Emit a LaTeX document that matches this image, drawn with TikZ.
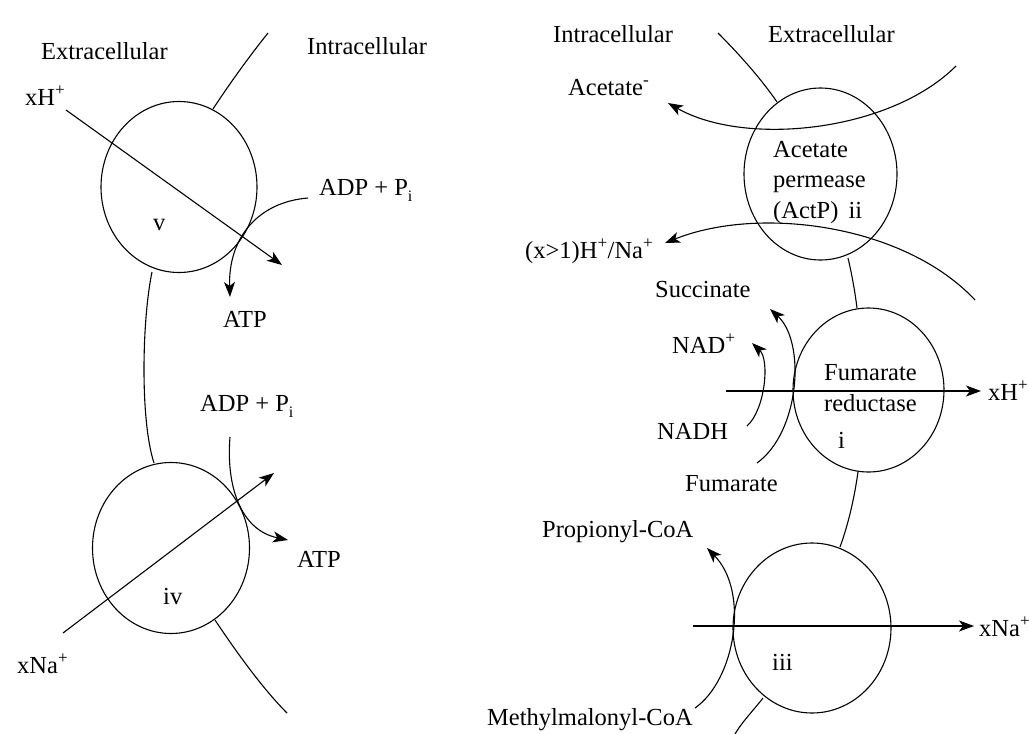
\documentclass[tikz,border=0pt]{standalone}
\usepackage{fontspec}
\setmainfont{Liberation Serif}
\usetikzlibrary{arrows.meta,shapes.geometric}
\newcommand{\lowi}{\raisebox{-6pt}{\fontsize{16}{16}\selectfont i}}
\begin{document}
\begin{tikzpicture}[x=1pt,y=-1pt,
  lbl/.style={anchor=base west, inner sep=0pt, font=\fontsize{24.5}{29}\selectfont},
  memb/.style={line width=1.1pt},
  flow/.style={line width=1.1pt, -{Stealth[length=15pt,width=11pt,inset=4pt]}},
  prot/.style={draw, ellipse, line width=1.1pt, inner sep=0pt}]
\useasboundingbox (0,0) rectangle (1029,734);

% ---------- protein circles ----------
\node[prot, minimum width=156pt, minimum height=171pt] (cv)   at (179,187) {};
\node[prot, minimum width=157pt, minimum height=171pt] (civ)  at (171,548) {};
\node[prot, minimum width=153pt, minimum height=172pt] (cii)  at (820.5,174) {};
\node[prot, minimum width=151pt, minimum height=164pt] (ci)   at (868.5,390) {};
\node[prot, minimum width=158pt, minimum height=170pt] (ciii) at (812,628) {};

% ---------- membrane segments ----------
\coordinate (mA0) at (268,33);  \coordinate (mA1) at (213,109);
\coordinate (mB0) at (152,272); \coordinate (mB1) at (154,463);
\coordinate (mC0) at (215,620); \coordinate (mC1) at (287,713);
\coordinate (rA0) at (718,33);  \coordinate (rA1) at (777,102);
\coordinate (rB0) at (848,258); \coordinate (rB1) at (857,308);
\coordinate (rC0) at (858,472); \coordinate (rC1) at (840,547);
\coordinate (rD0) at (763,698); \coordinate (rD1) at (735,734);

\draw[memb] (mA0) .. controls (248,58) and (228,86) .. (mA1);
\draw[memb] (mB0) .. controls (142,320) and (140,420) .. (mB1);
\draw[memb] (mC0) .. controls (235,650) and (262,688) .. (mC1);
\draw[memb] (rA0) .. controls (740,55) and (762,80) .. (rA1);
\draw[memb] (rB0) .. controls (852,275) and (855,292) .. (rB1);
\draw[memb] (rC0) .. controls (854,500) and (848,525) .. (rC1);
\draw[memb] (rD0) .. controls (752,712) and (742,722) .. (rD1);

% ---------- labels ----------
\node[lbl] (extL) at (41,59)  {Extracellular};
\node[lbl] (intL) at (307,54) {Intracellular};
\node[lbl] (xHL)  at (25,105) {xH\textsuperscript{+}};
\node[lbl] (adp1) at (319,195) {ADP + P\lowi};
\node[lbl] (atp1) at (223,327) {ATP};
\node[lbl] (labv) at (153,230) {v};
\node[lbl] (adp2) at (200,411) {ADP + P\lowi};
\node[lbl] (atp2) at (297,567) {ATP};
\node[lbl] (labiv) at (163,604) {iv};
\node[lbl] (xNaL) at (17,673) {xNa\textsuperscript{+}};

\node[lbl] (intR) at (553,42) {Intracellular};
\node[lbl] (extR) at (768,42) {Extracellular};
\node[lbl] (acet) at (568,95) {Acetate\textsuperscript{-}};
\node[lbl] (ap1)  at (773,157) {Acetate};
\node[lbl] (ap2)  at (773,187) {permease};
\node[lbl] (ap3)  at (773,218) {(ActP)\hspace{10pt}ii};
\node[lbl] (hna)  at (525,258) {(x>1)H\textsuperscript{+}/Na\textsuperscript{+}};
\node[lbl] (succ) at (655,297) {Succinate};
\node[lbl] (nadp) at (672,353) {NAD\textsuperscript{+}};
\node[lbl] (fr1)  at (824,380) {Fumarate};
\node[lbl] (fr2)  at (824,411) {reductase};
\node[lbl] (labi) at (838,448) {i};
\node[lbl] (nadh) at (657,439) {NADH};
\node[lbl] (fum)  at (685,491) {Fumarate};
\node[lbl] (xHR)  at (988,400) {xH\textsuperscript{+}};
\node[lbl] (prop) at (542,537) {Propionyl-CoA};
\node[lbl] (mmal) at (487,725) {Methylmalonyl-CoA};
\node[lbl] (labiii) at (772,670) {iii};
\node[lbl] (xNaR) at (979,636) {xNa\textsuperscript{+}};

% ---------- flow arrows ----------
\coordinate (aH0) at (66,110);   \coordinate (aH1) at (282,265);
\coordinate (aP0) at (308,198);  \coordinate (aP1) at (230,297);
\coordinate (aQ0) at (230,437);  \coordinate (aQ1) at (288,540);
\coordinate (aN0) at (63,633);   \coordinate (aN1) at (274,473);

\draw[flow] (aH0) -- (aH1);
\draw[flow] (aP0) .. controls (258,202) and (228,238) .. (aP1);
\draw[flow] (aQ0) .. controls (226,485) and (240,530) .. (aQ1);
\draw[flow] (aN0) -- (aN1);

\coordinate (bA0) at (956,66);   \coordinate (bA1) at (668,103);
\coordinate (bB0) at (975,300);  \coordinate (bB1) at (665,243);
\coordinate (bS0) at (757,463);  \coordinate (bS1) at (770,309);
\coordinate (bN0) at (747,426);  \coordinate (bN1) at (752,343);
\coordinate (bH0) at (726,391);  \coordinate (bH1) at (981,391);
\coordinate (bM0) at (695,708);  \coordinate (bM1) at (707,548);
\coordinate (bX0) at (693,626);  \coordinate (bX1) at (974,626);

\draw[flow] (bA0) .. controls (890,132) and (745,147) .. (bA1);
\draw[flow] (bB0) .. controls (905,225) and (760,205) .. (bB1);
\draw[flow] (bS0) .. controls (800,432) and (806,342) .. (bS1);
\draw[flow] (bN0) .. controls (765,410) and (770,360) .. (bN1);
\draw[flow] (bH0) -- (bH1);
\draw[flow] (bM0) .. controls (735,680) and (750,592) .. (bM1);
\draw[flow] (bX0) -- (bX1);
\end{tikzpicture}
\end{document}
